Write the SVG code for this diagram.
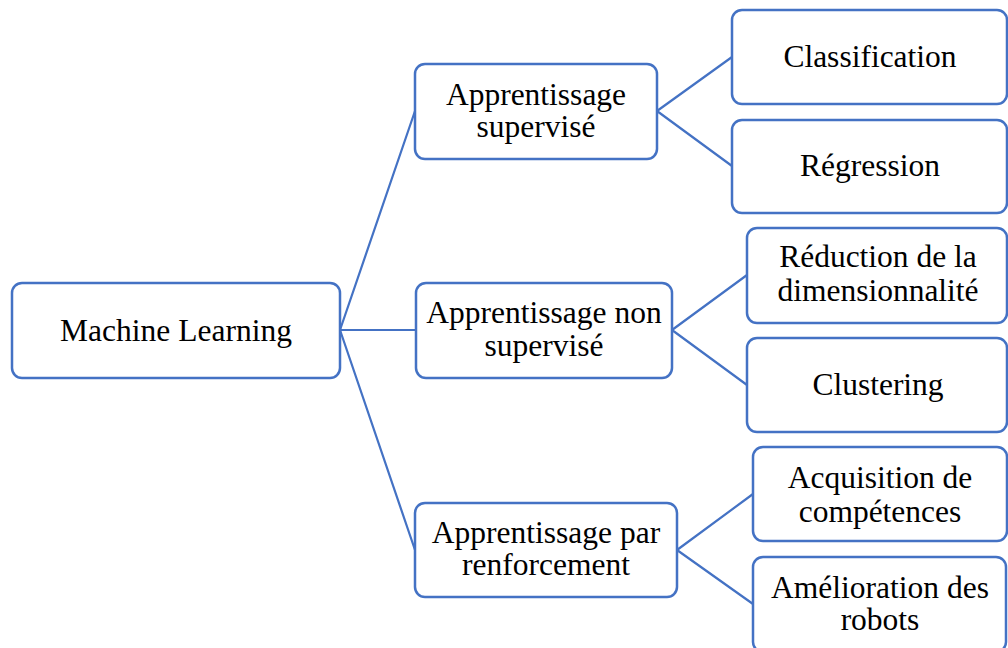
<svg xmlns="http://www.w3.org/2000/svg" width="1008" height="648" viewBox="0 0 1008 648">
<style>
.box{fill:#fff;stroke:#4472C4;stroke-width:2.5}
.lbl{font-family:"Liberation Serif","Times New Roman",serif;font-size:31.5px;fill:#000;text-anchor:middle}
.con{stroke:#4472C4;stroke-width:2.2;fill:none}
</style>
<rect width="1008" height="648" fill="#fff"/>
<g id="connectors">
<path class="con" d="M340,330 L415,111 M340,330 L416,330 M340,330 L415,550"/>
<path class="con" d="M657,111 L732,57 M657,111 L732,166"/>
<path class="con" d="M672,330 L747,275 M672,330 L747,385"/>
<path class="con" d="M677,550 L753,494 M677,550 L753,604"/>
</g>
<g id="n-ml"><rect class="box" x="12" y="283" width="328" height="95" rx="10"/><text class="lbl" x="176" y="341">Machine Learning</text></g>
<g id="n-sup"><rect class="box" x="415" y="64" width="242" height="95" rx="10"/><text class="lbl" x="536" y="105">Apprentissage</text><text class="lbl" x="536" y="137">supervisé</text></g>
<g id="n-nonsup"><rect class="box" x="416" y="283" width="256" height="95" rx="10"/><text class="lbl" x="544" y="323">Apprentissage non</text><text class="lbl" x="544" y="356">supervisé</text></g>
<g id="n-renf"><rect class="box" x="415" y="503" width="262" height="94" rx="10"/><text class="lbl" x="546" y="543">Apprentissage par</text><text class="lbl" x="546" y="575">renforcement</text></g>
<g id="n-class"><rect class="box" x="732" y="10" width="275" height="94" rx="10"/><text class="lbl" x="870" y="67">Classification</text></g>
<g id="n-reg"><rect class="box" x="732" y="120" width="275" height="93" rx="10"/><text class="lbl" x="870" y="176">Régression</text></g>
<g id="n-red"><rect class="box" x="747" y="228" width="260" height="95" rx="10"/><text class="lbl" x="878" y="267">Réduction de la</text><text class="lbl" x="878" y="301">dimensionnalité</text></g>
<g id="n-clus"><rect class="box" x="747" y="338" width="260" height="94" rx="10"/><text class="lbl" x="878" y="395">Clustering</text></g>
<g id="n-acq"><rect class="box" x="753" y="447" width="254" height="94" rx="10"/><text class="lbl" x="880" y="488">Acquisition de</text><text class="lbl" x="880" y="522">compétences</text></g>
<g id="n-ame"><rect class="box" x="753" y="557" width="253" height="95" rx="10"/><text class="lbl" x="880" y="598">Amélioration des</text><text class="lbl" x="880" y="630">robots</text></g>
</svg>
